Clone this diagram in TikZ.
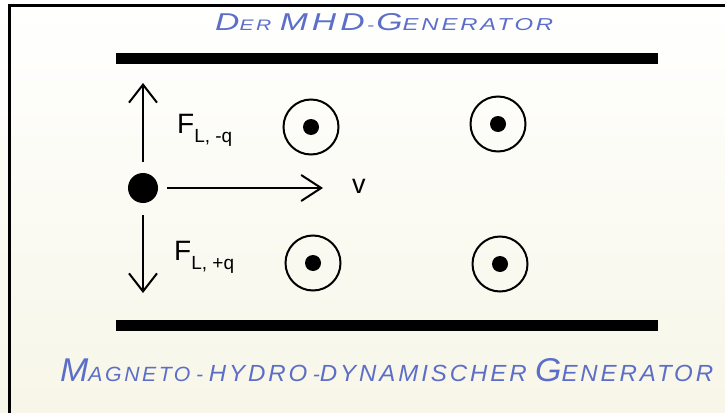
\documentclass[tikz,border=0pt]{standalone}
\usepackage{fontspec}
\usepackage{graphicx}
\setmainfont{Liberation Sans}
\newfontfamily\handfont{Liberation Sans}[LetterSpace=12]
\usetikzlibrary{arrows.meta}
\definecolor{pen}{RGB}{92,110,200}
\definecolor{paper}{RGB}{247,246,232}
\newcommand\hwBig[1]{{\fontsize{24}{24}\selectfont #1}}
\newcommand\hwSmall[1]{{\fontsize{15}{15}\selectfont #1}}
\newcommand\hwMid[1]{{\fontsize{17}{17}\selectfont #1}}
\begin{document}
\begin{tikzpicture}[x=1pt,y=-1pt,
  plate/.style={fill=black},
  vec/.style={line width=2pt,-{Straight Barb[length=18pt,width=28pt,line width=2pt]}},
  vecr/.style={line width=2pt,-{Straight Barb[length=20pt,width=26pt,line width=2pt]}},
  charge/.style={circle,fill=black,minimum size=30pt,inner sep=0pt},
  ring/.style={circle,draw=black,line width=2pt,minimum size=55pt,inner sep=0pt},
  dotc/.style={circle,fill=black,minimum size=16pt,inner sep=0pt},
  lbl/.style={anchor=base west,inner sep=0pt,text=black},
  hand/.style={anchor=base west,inner sep=0pt,text=pen,font=\handfont\itshape}]
\useasboundingbox (0,0) rectangle (725,412);
\shade[top color=white,bottom color=paper] (0,0) rectangle (725,412);
\draw[line width=3pt] (9,413) -- (9,6) -- (726,6);
% plates
\fill[plate] (116,53) rectangle (658,64);
\fill[plate] (116,320) rectangle (658,331);
% charge and vectors
\node[charge] (q) at (143,188) {};
\coordinate (up) at (143,83);
\coordinate (dn) at (143,293);
\coordinate (rt) at (323,188);
\draw[vec,shorten <=11pt] (q) -- (up);
\draw[vec,shorten <=12pt] (q) -- (dn);
\draw[vecr,shorten <=9pt] (q) -- (rt);
% labels
\node[lbl] (fm) at (177,133) {\fontsize{28}{28}\selectfont F\raisebox{-9pt}{\fontsize{19}{19}\selectfont L, -q}};
\node[lbl] (fp) at (174,260) {\fontsize{28}{28}\selectfont F\raisebox{-9pt}{\fontsize{19}{19}\selectfont L, +q}};
\node[lbl] (v) at (352,193) {\fontsize{27}{27}\selectfont v};
% magnetic field out of the page
\node[ring] (b1) at (311,127) {};
\node[dotc] (b1d) at (b1) {};
\node[ring] (b2) at (498,124) {};
\node[dotc] (b2d) at (b2) {};
\node[ring] (b3) at (313,263) {};
\node[dotc] (b3d) at (b3) {};
\node[ring] (b4) at (500,264) {};
\node[dotc] (b4d) at (b4) {};
% handwritten titles
\node[hand] (title) at (215,31) {\resizebox{338pt}{17pt}{\hwBig{D}\hwSmall{ER}\hspace{0.6em}\hwBig{MHD}\,\hwSmall{-}\,\hwBig{G}\hwMid{ENERATOR}}};
\node[hand] (sub) at (60,381) {\resizebox{653pt}{23pt}{\hwBig{M}\hwSmall{AGNETO} \hwSmall{-} \hwMid{HYDRO} \hwSmall{-}\hwMid{DYNAMISCHER}\hspace{0.6em}\hwBig{G}\hwMid{ENERATOR}}};
\end{tikzpicture}
\end{document}
